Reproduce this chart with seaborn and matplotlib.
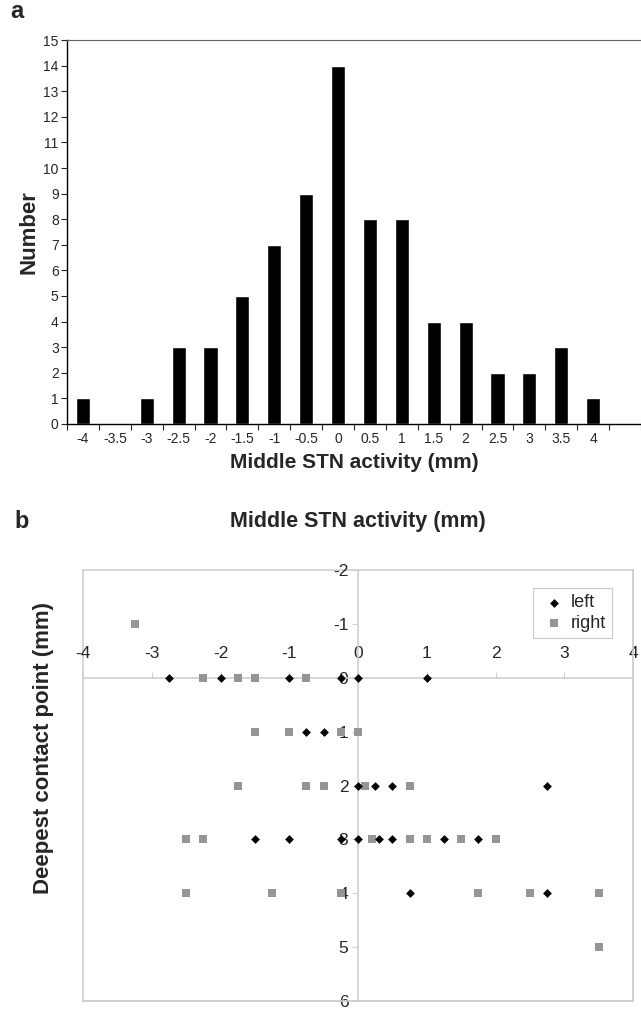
import numpy as np
import pandas as pd
import matplotlib
matplotlib.use("Agg")
import matplotlib.pyplot as plt
from matplotlib.patches import Rectangle
import seaborn as sns

# panel a: histogram of middle STN activity
bins = ['-4', '-3.5', '-3', '-2.5', '-2', '-1.5', '-1', '-0.5', '0',
        '0.5', '1', '1.5', '2', '2.5', '3', '3.5', '4']
counts = [1, 0, 1, 3, 3, 5, 7, 9, 14, 8, 8, 4, 4, 2, 2, 3, 1]

# panel b: middle STN activity vs deepest contact point
left_x = [-2.75, -2.0, -1.0, -0.25, 0.0, 1.0,
          -0.75, -0.5,
          0.0, 0.25, 0.5, 2.75,
          -1.5, -1.0, -0.25, 0.0, 0.3, 0.5, 1.25, 1.75,
          0.75, 2.75]
left_y = [0, 0, 0, 0, 0, 0,
          1, 1,
          2, 2, 2, 2,
          3, 3, 3, 3, 3, 3, 3, 3,
          4, 4]
right_x = [-3.25,
           -2.25, -1.75, -1.5, -0.75,
           -1.5, -1.0, -0.25, 0.0,
           -1.75, -0.75, -0.5, 0.1, 0.75,
           -2.5, -2.25, 0.2, 0.75, 1.0, 1.5, 2.0,
           -2.5, -1.25, -0.25, 1.75, 2.5, 3.5,
           3.5]
right_y = [-1,
           0, 0, 0, 0,
           1, 1, 1, 1,
           2, 2, 2, 2, 2,
           3, 3, 3, 3, 3, 3, 3,
           4, 4, 4, 4, 4, 4,
           5]

sns.set_style("white")
plt.rcParams['font.family'] = ['Liberation Sans', 'DejaVu Sans']
plt.rcParams['axes.unicode_minus'] = False

fig = plt.figure(figsize=(6.41, 10.09), dpi=100)

# ---- a ----
ax1 = fig.add_axes([67/641, 1-424/1009, 1-67/641, (424-40)/1009])
hist_df = pd.DataFrame({'bin': bins, 'count': counts})
sns.barplot(data=hist_df, x='bin', y='count', order=bins, color='black',
            width=0.44, saturation=1, ax=ax1)
ax1.set_xlim(-0.5, 17.5)
ax1.set_ylim(0, 15)
ax1.set_yticks(range(16))
ax1.set_xticks(np.arange(-0.5, 18, 1), minor=True)
ax1.tick_params(axis='x', which='major', length=0, labelsize=10, pad=6)
ax1.tick_params(axis='x', which='minor', length=4, width=0.8, direction='out', bottom=True)
ax1.tick_params(axis='y', length=4, width=0.8, direction='out', left=True, labelsize=10, pad=2)
for s in ['left', 'bottom']:
    ax1.spines[s].set_color('black')
    ax1.spines[s].set_linewidth(1.0)
ax1.spines['top'].set_color('#666666')
ax1.spines['right'].set_visible(False)
ax1.set_xlabel('Middle STN activity (mm)', fontsize=15, fontweight='bold', labelpad=5)
ax1.set_ylabel('Number', fontsize=16, fontweight='bold', labelpad=3)
fig.text(10/641, 1-12/1009, 'a', fontsize=17, fontweight='bold', va='center')

# ---- b ----
ax2 = fig.add_axes([83/641, 1-1001/1009, (633-83)/641, (1001-570)/1009])
left_df = pd.DataFrame({'x': left_x, 'y': left_y})
right_df = pd.DataFrame({'x': right_x, 'y': right_y})
sns.scatterplot(data=left_df, x='x', y='y', marker='D', color='black', s=20,
                linewidth=0, label='left', ax=ax2, zorder=4)
sns.scatterplot(data=right_df, x='x', y='y', marker='s', color='#959595', s=26,
                linewidth=0, label='right', ax=ax2, zorder=3)
ax2.set_xlim(-4, 4)
ax2.set_ylim(6, -2)
ax2.set_xticks(range(-4, 5))
ax2.set_yticks(range(-2, 7))
frame = '#cfcfcf'
ax2.spines['left'].set_position(('data', 0))
ax2.spines['top'].set_position(('data', 0))
for s in ['left', 'top', 'right', 'bottom']:
    ax2.spines[s].set_color(frame)
    ax2.spines[s].set_linewidth(1.2)
ax2.add_patch(Rectangle((0, 0), 1, 1, transform=ax2.transAxes, fill=False,
                        edgecolor=frame, linewidth=1.2, clip_on=False, zorder=0))
ax2.xaxis.set_ticks_position('top')
ax2.tick_params(axis='x', length=4, width=0.8, color=frame, direction='out',
                labelsize=12.5, pad=8, top=True, bottom=False)
ax2.tick_params(axis='y', length=4, width=0.8, color=frame, direction='out',
                labelsize=12.5, pad=3, left=True)
ax2.set_xlabel('')
ax2.set_ylabel('')
leg = ax2.legend(loc='upper right', bbox_to_anchor=((612-83)/550, (1001-588)/431),
                 borderaxespad=0, fontsize=13, frameon=True, fancybox=False,
                 edgecolor='#bbbbbb', handletextpad=0.1, borderpad=0.35,
                 labelspacing=0.2, handlelength=1.6, markerscale=1.0)
leg.get_frame().set_linewidth(0.8)

fig.text(358/641, 1-522/1009, 'Middle STN activity (mm)', fontsize=15.5,
         fontweight='bold', ha='center', va='center')
fig.text(44/641, 1-748/1009, 'Deepest contact point (mm)', fontsize=16,
         fontweight='bold', ha='center', va='center', rotation=90)
fig.text(14/641, 1-522/1009, 'b', fontsize=17, fontweight='bold', va='center')

fig.savefig('out.png', dpi=100)
